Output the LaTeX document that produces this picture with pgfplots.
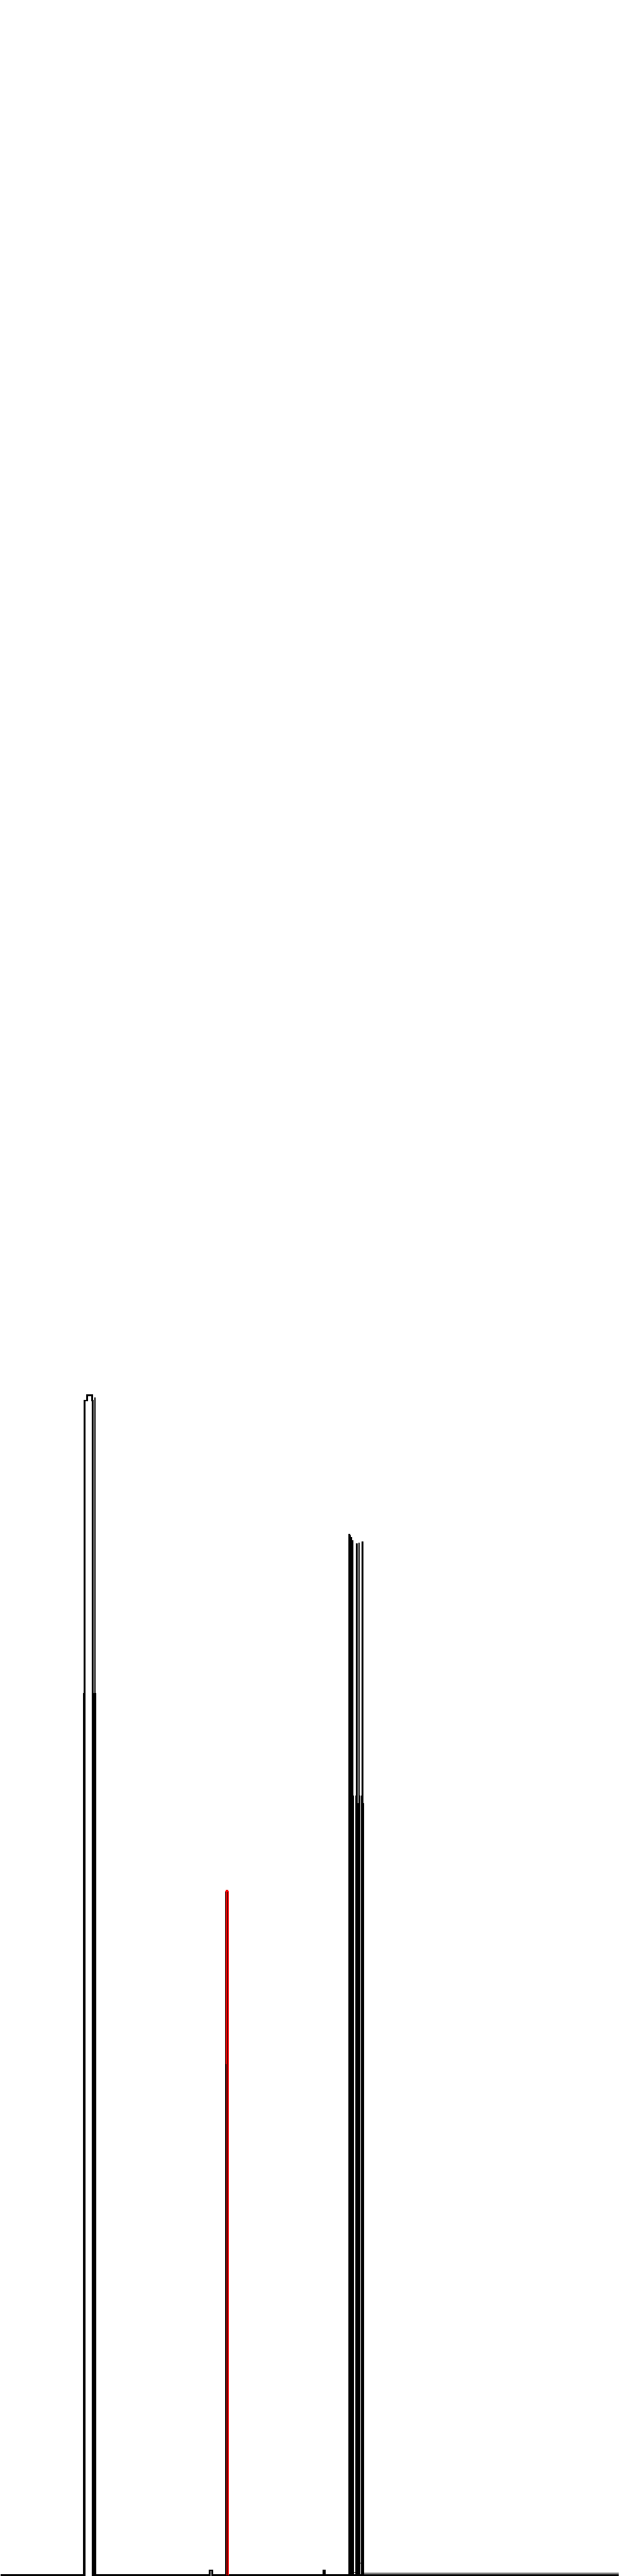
\documentclass[border=0pt]{standalone}
\usepackage{pgfplots}
\pgfplotsset{compat=1.18}
\newcommand{\vl}[4]{\addplot[black,#1] coordinates {(#2,#3)(#2,#4)};}
\begin{document}
\begin{tikzpicture}
\begin{axis}[
  scale only axis, width=14.4cm, height=60cm,
  xmin=0, xmax=1440, ymin=0, ymax=6000,
  hide axis, clip=false, no marks,
  cycle list={{black}},
  every axis plot/.append style={line width=1.1pt},
]
\path (rel axis cs:0,0) rectangle (rel axis cs:1,1);
% main baseline with first peak, small bumps
\addplot[black] coordinates {(0,2)(195,2)(195,2738)(200.5,2738)(200.5,2750)(212.5,2750)(212.5,2738)(214,2738)(214,2)
 (487,2)(487,13)(492,13)(492,2)(752,2)(752,12)(755,12)(755,2)(1440,2)};
% secondary baseline on the right
\addplot[black, line width=0.55pt] coordinates {(822,8)(830,8)(830,2)(837,2)(837,30)(839.5,30)(839.5,47)(842.7,47)(842.7,6.3)(1440,6.3)};
% left peak lines
\vl{}{219.2}{2}{2745}
\vl{}{193.5}{2}{2056}
\vl{}{220.5}{2}{2056}
\vl{}{216.8}{687}{2056}
\vl{line width=0.5pt}{217.3}{2}{687}
% red peak
\addplot[red] coordinates {(525,2)(525,1593)(526,1593)(526,1596)(528,1596)(528,1593)(529.7,1593)(529.7,2)};
\vl{line width=0.37pt}{523.7}{2}{1593}
\vl{line width=0.37pt}{527.7}{2}{1593}
\vl{line width=0.6pt}{523.7}{2}{1193}
\vl{line width=0.6pt}{527.7}{2}{1193}
% right cluster
\vl{}{810.8}{2}{1818}
\vl{}{811.8}{2}{2427}
\vl{}{814}{605}{2424}
\vl{}{816.5}{2}{2420}
\vl{}{819}{605}{2413}
\vl{}{820.8}{2}{1818}
\vl{}{827.8}{2}{1818}
\vl{}{829.5}{605}{2405}
\vl{}{832}{2}{1800}
\vl{}{834.5}{605}{2407}
\vl{}{836}{2}{1818}
\vl{}{840.3}{2}{1818}
\vl{}{842.5}{605}{2410}
\vl{}{843.5}{2}{1800}
\end{axis}
\end{tikzpicture}
\end{document}
